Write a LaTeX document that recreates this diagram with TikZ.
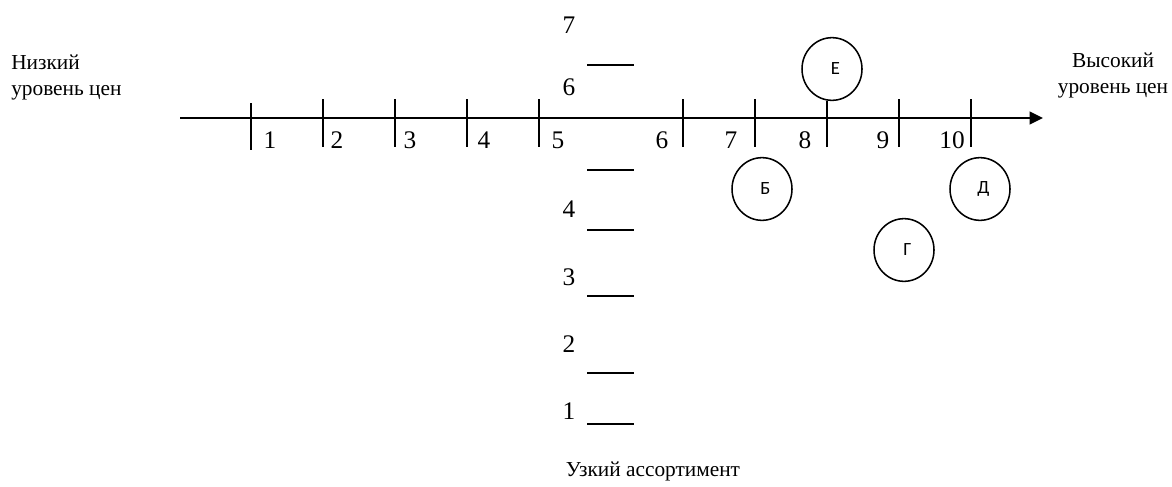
\documentclass[tikz,border=0pt]{standalone}
\usepackage{fontspec}
\setmainfont{Liberation Serif}
\newfontfamily\circfont{Carlito}
\usetikzlibrary{shapes.geometric,arrows.meta}
\tikzset{
  axisline/.style={line width=1.3pt},
  tickline/.style={line width=1.3pt},
  lbl/.style={font=\fontsize{16}{19}\selectfont, inner sep=0pt, align=center},
  num/.style={font=\fontsize{19}{21}\selectfont, inner sep=0pt, anchor=base},
  seg/.style={ellipse, draw, line width=1.15pt, minimum width=45pt, minimum height=47pt, inner sep=0pt, font=\circfont\fontsize{14}{16}\selectfont}
}
\newcommand{\seglbl}[1]{\hspace*{5pt}#1}
\begin{document}
\begin{tikzpicture}[x=0.75pt,y=-0.75pt]
\useasboundingbox (0,0) rectangle (1172,486);
% side labels
\node[lbl, anchor=base west, align=left] (low) at (11,95) {Низкий\\уровень цен};
\node[lbl, anchor=base] (high) at (1113,93) {Высокий\\уровень цен};
\node[lbl, anchor=base] (narrow) at (653,476) {Узкий ассортимент};
% horizontal axis
\coordinate (hs) at (180,118);
\coordinate (he) at (1043,118);
\draw[axisline, -{Triangle[length=10pt,width=9.5pt]}] (hs) -- (he);
% ticks
\draw[tickline] (251,103) -- (251,150);
\foreach \x in {323,395,467,539,683,755,899,971}{
  \draw[tickline] (\x,99) -- (\x,147);
}
\node[num] (hx1) at (270,148) {1};
\node[num] (hx2) at (337,148) {2};
\node[num] (hx3) at (410,148) {3};
\node[num] (hx4) at (484,148) {4};
\node[num] (hx5) at (558,148) {5};
\node[num] (hx6) at (662,148) {6};
\node[num] (hx7) at (731,148) {7};
\node[num] (hx8) at (805,148) {8};
\node[num] (hx9) at (883,148) {9};
\node[num] (hx10) at (952,148) {10};
% vertical scale
\foreach \y in {65,170,230,296,373,424}{
  \draw[tickline] (587,\y) -- (634,\y);
}
\node[num] (v7) at (569,33) {7};
\node[num] (v6) at (569,95) {6};
\node[num] (v4) at (569,217) {4};
\node[num] (v3) at (569,285) {3};
\node[num] (v2) at (569,352) {2};
\node[num] (v1) at (569,419) {1};
% circles
\node[seg] (E) at (832,69) {\seglbl{Е}};
\node[seg] (B) at (762,189) {\seglbl{Б}};
\node[seg] (G) at (904,250) {\seglbl{Г}};
\node[seg] (D) at (980,189) {\seglbl{Д}};
\coordinate (Ebot) at (827,147);
\draw[tickline] (Ebot) -- (Ebot |- E.south);
\end{tikzpicture}
\end{document}
